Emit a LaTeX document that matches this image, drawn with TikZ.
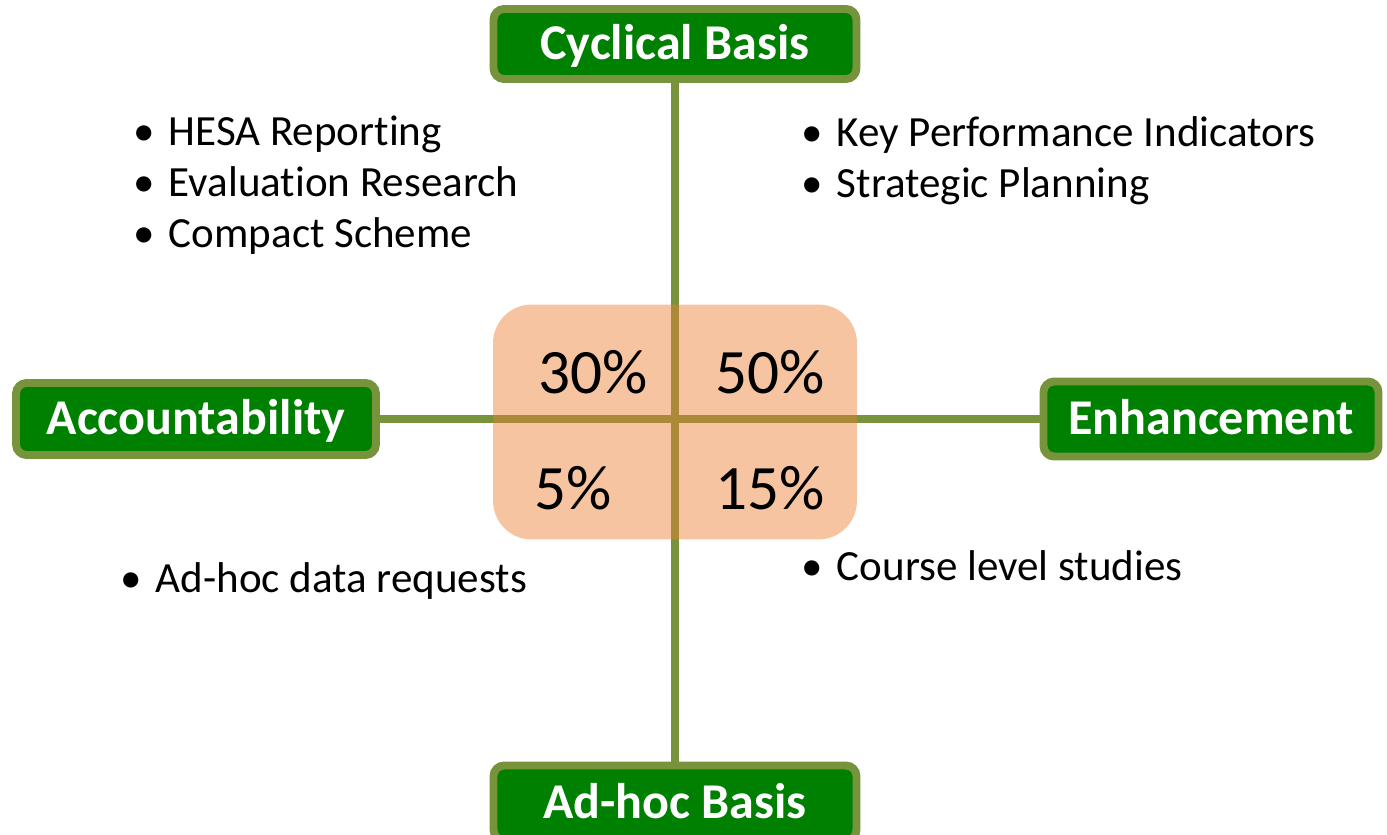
\documentclass[tikz,border=0pt]{standalone}
\usepackage{fontspec}
\setmainfont{Carlito}[Ligatures=NoCommon]
\definecolor{box_fill}{HTML}{008000}
\definecolor{axis_line}{HTML}{77933C}
\definecolor{share_fill}{HTML}{ED7D31}

\begin{document}
\begin{tikzpicture}[x=0.02cm, y=-0.02cm,
    basis/.style={draw=axis_line, line width=4.5pt, fill=box_fill, rounded corners=6pt,
      text=white, font=\bfseries\fontsize{28.5}{32}\selectfont, inner sep=0pt,
      text height=21pt, text depth=3pt},
    axis/.style={axis_line, line width=4pt},
    share/.style={font=\fontsize{36}{40}\selectfont},
    items/.style={align=left, anchor=north west, inner sep=0pt, font=\fontsize{24.5}{29}\selectfont}]
        \useasboundingbox (0,0) rectangle (1387,835);
        \node[basis, minimum width=7.26cm, minimum height=1.4cm] (cyc) at (675,44) {Cyclical Basis};
        \node[basis, minimum width=7.26cm, minimum height=1.5cm] (adh) at (675,803) {Ad-hoc Basis};
        \node[basis, minimum width=7.2cm, minimum height=1.44cm] (acc) at (196,419) {Accountability};
        \node[basis, minimum width=6.7cm, minimum height=1.5cm] (enh) at (1211,419) {Enhancement};
        \draw[axis] (cyc) -- (adh);
        \draw[axis] (acc) -- (enh);
        % share of work per quadrant
        \node[fill=share_fill, fill opacity=0.45, rounded corners=22pt,
          minimum width=7.28cm, minimum height=4.7cm] (quad) at (675,422) {};
        \node[share] (p30) at (593,372) {30\%};
        \node[share] (p50) at (770,372) {50\%};
        \node[share] (p5) at (573,488) {5\%};
        \node[share] (p15) at (770,488) {15\%};
        \node[items] (acccyc) at (133,116) {\textbullet\hspace{8pt}HESA Reporting\\
          \textbullet\hspace{8pt}Evaluation Research\\ \textbullet\hspace{8pt}Compact Scheme};
        \node[items] (enhcyc) at (801,116) {\textbullet\hspace{8pt}Key Performance Indicators\\
          \textbullet\hspace{8pt}Strategic Planning};
        \node[items] (accadh) at (120,562) {\textbullet\hspace{8pt}Ad-hoc data requests};
        \node[items] (enhadh) at (801,550) {\textbullet\hspace{8pt}Course level studies};
      \end{tikzpicture}
\end{document}
